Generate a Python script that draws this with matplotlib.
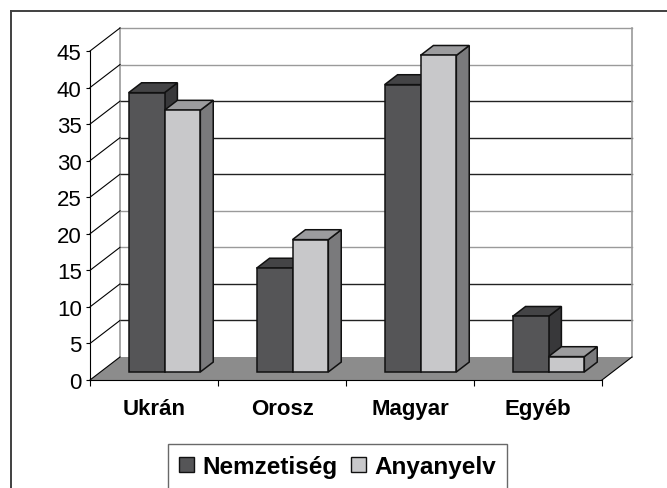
"""
Nemzetiség / anyanyelv megoszlás — Excel-stílusú 3D oszlopdiagram újrarajzolása
"""

import matplotlib
matplotlib.use('Agg')
import matplotlib.pyplot as plt
from matplotlib.lines import Line2D
from matplotlib.patches import Patch

plt.rcParams['font.family'] = ['Liberation Sans', 'DejaVu Sans']

# adatok
categories = ['Ukrán', 'Orosz', 'Magyar', 'Egyéb']
nemzetiseg = [38.2, 14.2, 39.3, 7.6]
anyanyelv = [35.8, 18.1, 43.3, 2.1]
series_names = ['Nemzetiség', 'Anyanyelv']
y_ticks = [0, 5, 10, 15, 20, 25, 30, 35, 40, 45]

# színek (oldal, tető, eleje)
DARK = {'front': '#555557', 'top': '#444446', 'side': '#38383a'}
LIGHT = {'front': '#c8c8ca', 'top': '#9c9c9e', 'side': '#7a7a7c'}
FLOOR = '#8c8c8c'
WALL_EDGE = '#9a9a9a'
GRID_COLORS = {5: '#222222', 10: '#222222', 15: '#9a9a9a', 20: '#9a9a9a',
               25: '#222222', 30: '#222222', 35: '#222222', 40: '#9a9a9a',
               45: '#9a9a9a'}

W, H = 667, 489
fig = plt.figure(figsize=(W / 100, H / 100), dpi=100)
fig.patch.set_facecolor('white')

# elülső sík a képen: x 90..602 px, y 381..52 px
ax = fig.add_axes([90 / W, 108 / H, 512 / W, 329 / H])
n = len(categories)
ax.set_xlim(0, n)
ax.set_ylim(0, 45)
ax.set_facecolor('none')

# mélység eltolás adategységben (30 px jobbra, 23 px fel)
DX = 30 / (512 / n)
DY = 23 / (329 / 45)


def proj(x, v, d):
    return x + d * DX, v + d * DY


# hátsó fal rácsvonalai
for v in y_ticks[1:]:
    x0, y0 = proj(0, v, 1)
    x1, y1 = proj(n, v, 1)
    ax.plot([x0, x1], [y0, y1], color=GRID_COLORS[v], lw=1.0,
            clip_on=False, zorder=1)
for xe in (0, n):
    x0, y0 = proj(xe, 0, 1)
    x1, y1 = proj(xe, 45, 1)
    ax.plot([x0, x1], [y0, y1], color=WALL_EDGE, lw=1.2, clip_on=False, zorder=1)

# padló
floor = [proj(0, 0, 0), proj(n, 0, 0), proj(n, 0, 1), proj(0, 0, 1)]
ax.fill([p[0] for p in floor], [p[1] for p in floor], color=FLOOR,
        lw=0, clip_on=False, zorder=2)
fx0, fy0 = proj(n, 0, 0)
fx1, fy1 = proj(n, 0, 1)
ax.plot([fx0, fx1], [fy0, fy1], color='black', lw=0.8, clip_on=False, zorder=2)

# átlós vonalak az y-tengelytől a hátsó falig
for v in y_ticks:
    bx, by = proj(0, v, 1)
    ax.plot([0, bx], [v, by], color='black', lw=0.8, clip_on=False, zorder=2)

# oszlopok
D1, D2 = 0.35, 0.78
BAR_W = 0.28


def draw_bar(x0, value, colors):
    x1 = x0 + BAR_W
    side = [proj(x1, 0, D1), proj(x1, 0, D2), proj(x1, value, D2), proj(x1, value, D1)]
    top = [proj(x0, value, D1), proj(x1, value, D1), proj(x1, value, D2), proj(x0, value, D2)]
    front = [proj(x0, 0, D1), proj(x1, 0, D1), proj(x1, value, D1), proj(x0, value, D1)]
    for poly, key in ((side, 'side'), (top, 'top'), (front, 'front')):
        ax.fill([p[0] for p in poly], [p[1] for p in poly], facecolor=colors[key],
                edgecolor='#111111', lw=1.1, joinstyle='miter',
                clip_on=False, zorder=3)


for i in range(n):
    c = i + 0.5
    draw_bar(c - BAR_W, nemzetiseg[i], DARK)
    draw_bar(c, anyanyelv[i], LIGHT)

# tengelyek
for side in ('top', 'right'):
    ax.spines[side].set_visible(False)
for side in ('left', 'bottom'):
    ax.spines[side].set_color('black')
    ax.spines[side].set_linewidth(0.8)
    ax.spines[side].set_zorder(4)

ax.set_yticks(y_ticks)
ax.set_yticklabels([str(v) for v in y_ticks], fontsize=16)
ax.tick_params(axis='y', length=3, width=0.8, pad=3, colors='black')

ax.set_xticks(range(n + 1))
ax.set_xticklabels([''] * (n + 1))
ax.set_xticks([i + 0.5 for i in range(n)], minor=True)
ax.set_xticklabels(categories, minor=True, fontsize=16, fontweight='bold')
ax.tick_params(axis='x', which='major', length=4, width=0.8, direction='out')
ax.tick_params(axis='x', which='minor', length=0, pad=13)

# jelmagyarázat
handles = [Patch(facecolor=DARK['front'], edgecolor='#111111', lw=1.0),
           Patch(facecolor=LIGHT['front'], edgecolor='#111111', lw=1.0)]
leg = fig.legend(handles, series_names, loc='center',
                 bbox_to_anchor=(337.5 / W, 1 - 467.5 / H), ncol=2,
                 prop={'size': 17.5, 'weight': 'bold'},
                 frameon=True, fancybox=False, edgecolor='#444444',
                 handlelength=0.62, handleheight=0.62, handletextpad=0.33,
                 columnspacing=0.55, borderpad=0.45, borderaxespad=0)
leg.get_frame().set_linewidth(1.0)

# külső keret (bal és felső él)
fig.add_artist(Line2D([11 / W, 11 / W], [0, 1 - 12 / H], transform=fig.transFigure,
                      color='#404040', lw=1.4))
fig.add_artist(Line2D([11 / W, 1], [1 - 12 / H, 1 - 12 / H], transform=fig.transFigure,
                      color='#404040', lw=1.4))

fig.savefig('out.png', dpi=100)
plt.close(fig)
